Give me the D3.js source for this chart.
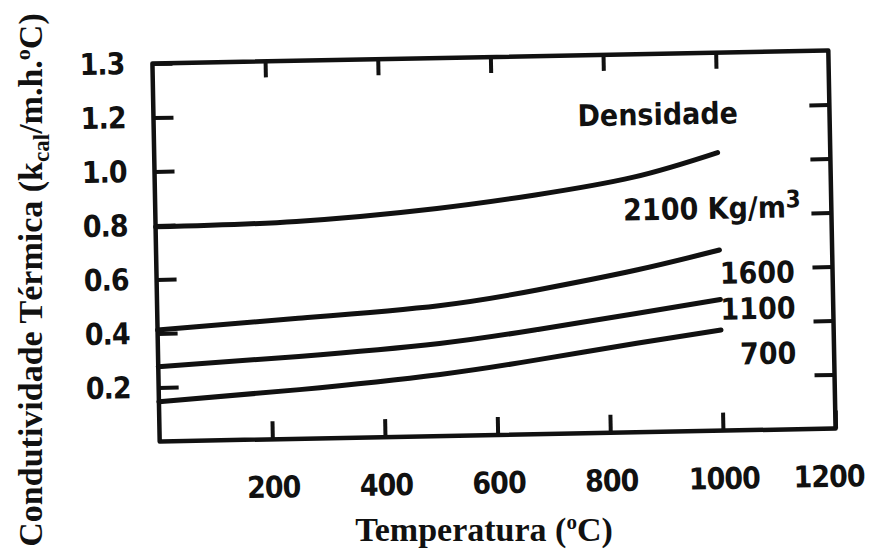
<!DOCTYPE html>
<html>
<head>
<meta charset="utf-8">
<script src="https://cdn.jsdelivr.net/npm/d3@7"></script>
<style>
  body { margin: 0; background: #fff; }
  .tick text { font-family: "DejaVu Sans Condensed", "DejaVu Sans", sans-serif; font-stretch: condensed; font-weight: bold; font-size: 30px; letter-spacing: -1px; fill: #111; }
  .tick line { stroke: #111; stroke-width: 4; }
  .note { font-family: "DejaVu Sans Condensed", "DejaVu Sans", sans-serif; font-stretch: condensed; font-weight: bold; font-size: 30px; fill: #111; }
  .title { font-family: "Liberation Serif", "Times New Roman", serif; font-weight: bold; fill: #111; }
</style>
</head>
<body>
<div id="chart"></div>
<script>
// values
const temps = [0, 250, 500, 675, 850, 1000];
const k2100 = [0.795, 0.805, 0.843, 0.886, 0.945, 1.030];
const k1600 = [0.413, 0.446, 0.483, 0.534, 0.600, 0.669];
const k1100 = [0.277, 0.305, 0.343, 0.388, 0.440, 0.486];
const k700 = [0.147, 0.182, 0.228, 0.276, 0.330, 0.373];

const xTicks = [200, 400, 600, 800, 1000, 1200];
const xTickLabels = ["200", "400", "600", "800", "1000", "1200"];
const yTicks = [0.2, 0.4, 0.6, 0.8, 1.0, 1.2, 1.4];
const yTickLabels = ["0.2", "0.4", "0.6", "0.8", "1.0", "1.2", "1.3"];

const W = 869, H = 560;
const box = {left: 156, right: 832, top: 57, bottom: 435};

const svg = d3.select("#chart").append("svg")
    .attr("width", W)
    .attr("height", H);

svg.append("rect").attr("width", W).attr("height", H).attr("fill", "#fff");

// the scan is tilted about a degree
const plot = svg.append("g")
    .attr("transform", "rotate(-1.1,494,246)");

const x = d3.scaleLinear().domain([0, 1200]).range([box.left, box.right]);
const y = d3.scaleLinear().domain([0, 1.4]).range([box.bottom, box.top]);

// inner ticks on all four sides
const fmtX = (d, i) => xTickLabels[i];
const fmtY = (d, i) => yTickLabels[i];

plot.append("g")
    .attr("transform", `translate(0,${box.bottom})`)
    .call(d3.axisBottom(x).tickValues(xTicks).tickFormat(fmtX)
        .tickSizeInner(-18).tickSizeOuter(0).tickPadding(37))
    .call(g => g.select(".domain").remove())
    .call(g => g.select(".tick:last-of-type text").attr("dx", -8));

plot.append("g")
    .attr("transform", `translate(0,${box.top})`)
    .call(d3.axisTop(x).tickValues(xTicks.slice(0, -1)).tickFormat("")
        .tickSizeInner(-16).tickSizeOuter(0))
    .call(g => g.select(".domain").remove());

plot.append("g")
    .attr("transform", `translate(${box.left},0)`)
    .call(d3.axisLeft(y).tickValues(yTicks).tickFormat(fmtY)
        .tickSizeInner(-20).tickSizeOuter(0).tickPadding(28))
    .call(g => g.select(".domain").remove());

plot.append("g")
    .attr("transform", `translate(${box.right},0)`)
    .call(d3.axisRight(y).tickValues(yTicks.slice(0, -1)).tickFormat("")
        .tickSizeInner(-20).tickSizeOuter(0))
    .call(g => g.select(".domain").remove());

plot.append("rect")
    .attr("x", x(0)).attr("y", y(1.4))
    .attr("width", x(1200) - x(0)).attr("height", y(0) - y(1.4))
    .attr("fill", "none").attr("stroke", "#111").attr("stroke-width", 4.5)
    .attr("stroke-linejoin", "round");

// curves
const line = d3.line()
    .x(d => x(d[0]))
    .y(d => y(d[1]))
    .curve(d3.curveNatural);

[k2100, k1600, k1100, k700].forEach(vals => {
    plot.append("path")
        .datum(temps.map((t, i) => [t, vals[i]]))
        .attr("d", line)
        .attr("fill", "none")
        .attr("stroke", "#111")
        .attr("stroke-width", 5)
        .attr("stroke-linecap", "round");
});

// labels beside the curves
plot.append("text").attr("class", "note")
    .attr("x", x(895)).attr("y", y(1.137))
    .attr("text-anchor", "middle")
    .attr("font-size", 32)
    .text("Densidade");

const t2100 = plot.append("text").attr("class", "note")
    .attr("x", x(1146)).attr("y", y(0.785))
    .attr("text-anchor", "end");
t2100.append("tspan").text("2100 Kg/m");
t2100.append("tspan").attr("dy", -10).attr("font-size", 24).text("3");

[["1600", 0.544], ["1100", 0.411], ["700", 0.244]].forEach(d => {
    plot.append("text").attr("class", "note")
        .attr("x", x(1133)).attr("y", y(d[1]))
        .attr("text-anchor", "end")
        .text(d[0]);
});

// axis titles (not tilted)
const xt = svg.append("text").attr("class", "title")
    .attr("x", 484).attr("y", 541)
    .attr("text-anchor", "middle")
    .attr("font-size", 34);
xt.append("tspan").text("Temperatura (");
xt.append("tspan").attr("dy", -12).attr("font-size", 21).text("o");
xt.append("tspan").attr("dy", 12).text("C)");

const yt = svg.append("text").attr("class", "title")
    .attr("transform", "translate(42,280) rotate(-90)")
    .attr("text-anchor", "middle")
    .attr("font-size", 34);
yt.append("tspan").text("Condutividade Térmica (k");
yt.append("tspan").attr("dy", 7).attr("font-size", 23).text("cal");
yt.append("tspan").attr("dy", -7).text("/m.h.");
yt.append("tspan").attr("dy", -12).attr("font-size", 22).text("o");
yt.append("tspan").attr("dy", 12).text("C)");
</script>
</body>
</html>
